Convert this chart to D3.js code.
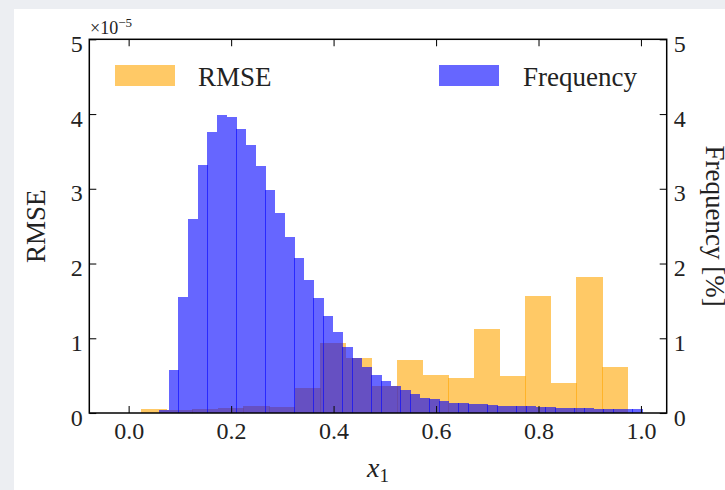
<!DOCTYPE html>
<html>
<head>
<meta charset="utf-8">
<script src="https://cdn.jsdelivr.net/npm/d3@7"></script>
<style>
  body { margin: 0; background: #eceef2; }
  svg { display: block; }
  text { font-family: "Liberation Serif", "DejaVu Serif", serif; fill: #222; }
</style>
</head>
<body>
<div id="chart"></div>
<script>
// RMSE bars (x 1e-5), bin centres and heights
const rmseCenters = [0.05, 0.10, 0.15, 0.20, 0.25, 0.30, 0.35, 0.40, 0.45, 0.50,
                     0.55, 0.60, 0.65, 0.70, 0.75, 0.80, 0.85, 0.90, 0.95];
const rmseValues = [0.05, 0.04, 0.055, 0.07, 0.10, 0.08, 0.34, 0.94, 0.74, 0.36,
                    0.71, 0.51, 0.47, 1.12, 0.50, 1.57, 0.40, 1.82, 0.62];
const rmseBinWidth = 0.05;

// Frequency histogram [%], 50 bins between these edges
const freqRange = [0.06, 1.003];
const freqValues = [0.04, 0.58, 1.55, 2.59, 3.32, 3.76, 3.99, 3.96, 3.80, 3.59,
                    3.30, 2.98, 2.67, 2.35, 2.07, 1.78, 1.54, 1.30, 1.09, 0.885,
                    0.737, 0.617, 0.509, 0.429, 0.362, 0.308, 0.255, 0.205, 0.188, 0.157,
                    0.134, 0.134, 0.12, 0.12, 0.11, 0.10, 0.098, 0.098, 0.095, 0.08,
                    0.08, 0.07, 0.067, 0.067, 0.065, 0.055, 0.054, 0.054, 0.05, 0.05];

const xTicks = [0.0, 0.2, 0.4, 0.6, 0.8, 1.0];
const yTicks = [0, 1, 2, 3, 4, 5];

const W = 725, H = 490;
const margin = { top: 39.3, right: 58.3, bottom: 77, left: 89.3 };
const width = W - margin.left - margin.right;
const height = H - margin.top - margin.bottom;

const svg = d3.select("#chart").append("svg")
    .attr("width", W)
    .attr("height", H);

// white figure area
svg.append("rect")
    .attr("x", 14).attr("y", 9)
    .attr("width", W - 14).attr("height", H - 9)
    .attr("fill", "#fff");

const g = svg.append("g")
    .attr("transform", `translate(${margin.left},${margin.top})`);

const x = d3.scaleLinear().domain([-0.0768, 1.0502]).range([0, width]);
const yL = d3.scaleLinear().domain([0, 5]).range([height, 0]);
const yR = d3.scaleLinear().domain([0, 5]).range([height, 0]);

// snap bar edges to pixels like matplotlib does (gives the odd darker seam)
function px0(v) { return Math.floor(x(v) + margin.left) - margin.left; }
function px1(v) { return Math.round(x(v) + margin.left) - margin.left; }

// RMSE bars
g.selectAll(".rmse")
    .data(rmseCenters)
    .enter().append("rect")
    .attr("class", "rmse")
    .attr("x", d => px0(d - rmseBinWidth / 2))
    .attr("width", d => px1(d + rmseBinWidth / 2) - px0(d - rmseBinWidth / 2))
    .attr("y", (d, i) => yL(rmseValues[i]))
    .attr("height", (d, i) => yL(0) - yL(rmseValues[i]))
    .attr("fill", "orange")
    .attr("fill-opacity", 0.6)
    .attr("shape-rendering", "crispEdges");

// Frequency bars
const binW = (freqRange[1] - freqRange[0]) / freqValues.length;
g.selectAll(".freq")
    .data(freqValues)
    .enter().append("rect")
    .attr("class", "freq")
    .attr("x", (d, i) => px0(freqRange[0] + i * binW))
    .attr("width", (d, i) => px1(freqRange[0] + (i + 1) * binW) - px0(freqRange[0] + i * binW))
    .attr("y", d => yR(d))
    .attr("height", d => yR(0) - yR(d))
    .attr("fill", "blue")
    .attr("fill-opacity", 0.6)
    .attr("shape-rendering", "crispEdges");

// axes with inward ticks
const fontTick = "24px";
const axBottom = g.append("g")
    .attr("transform", `translate(0,${height})`)
    .call(d3.axisBottom(x).tickValues(xTicks).tickFormat(d3.format(".1f"))
        .tickSizeInner(-7).tickSizeOuter(0).tickPadding(9));
const axTop = g.append("g")
    .call(d3.axisTop(x).tickValues(xTicks).tickFormat("")
        .tickSizeInner(-7).tickSizeOuter(0));
const axLeft = g.append("g")
    .call(d3.axisLeft(yL).tickValues(yTicks).tickFormat(d3.format("d"))
        .tickSizeInner(-7).tickSizeOuter(0).tickPadding(6.5));
const axRight = g.append("g")
    .attr("transform", `translate(${width},0)`)
    .call(d3.axisRight(yR).tickValues(yTicks).tickFormat(d3.format("d"))
        .tickSizeInner(-7).tickSizeOuter(0).tickPadding(7));

[axBottom, axTop, axLeft, axRight].forEach(a => {
    a.select(".domain").remove();
    a.selectAll(".tick line").attr("stroke", "#111").attr("stroke-width", 1.1);
    a.selectAll(".tick text")
        .style("font-family", "'Liberation Serif', serif")
        .style("font-size", fontTick)
        .attr("fill", "#222");
});
axLeft.selectAll(".tick text").attr("dy", "0.5em");
axRight.selectAll(".tick text").attr("dy", "0.5em");

// frame
g.append("rect")
    .attr("width", width).attr("height", height)
    .attr("fill", "none")
    .attr("stroke", "#000")
    .attr("stroke-width", 1.5);

// offset text x10^-5
const off = svg.append("text")
    .attr("x", 90).attr("y", 34)
    .style("font-size", "18px");
off.append("tspan").text("×10");
off.append("tspan").attr("dy", -7).style("font-size", "13px").text("−5");

// axis labels
svg.append("text")
    .attr("transform", `translate(45,${margin.top + height / 2}) rotate(-90)`)
    .style("text-anchor", "middle")
    .style("font-size", "27px")
    .text("RMSE");

svg.append("text")
    .attr("transform", `translate(706,${margin.top + height / 2}) rotate(90)`)
    .style("text-anchor", "middle")
    .style("font-size", "27px")
    .text("Frequency [%]");

const xl = svg.append("text")
    .attr("x", margin.left + width / 2)
    .attr("y", 477)
    .style("text-anchor", "middle")
    .style("font-size", "28px");
xl.append("tspan").style("font-style", "italic").text("x");
xl.append("tspan").attr("dy", 5).style("font-size", "19px").text("1");

// legend
const legendItems = [
    { label: "RMSE", color: "orange", px: 115, tx: 198 },
    { label: "Frequency", color: "blue", px: 439, tx: 523 }
];
const legend = svg.append("g").attr("class", "legend");
legend.selectAll("rect")
    .data(legendItems)
    .enter().append("rect")
    .attr("x", d => d.px)
    .attr("y", 65)
    .attr("width", 60)
    .attr("height", 21)
    .attr("fill", d => d.color)
    .attr("fill-opacity", 0.6);
legend.selectAll("text")
    .data(legendItems)
    .enter().append("text")
    .attr("x", d => d.tx)
    .attr("y", 86)
    .style("font-size", "27px")
    .text(d => d.label);
</script>
</body>
</html>
